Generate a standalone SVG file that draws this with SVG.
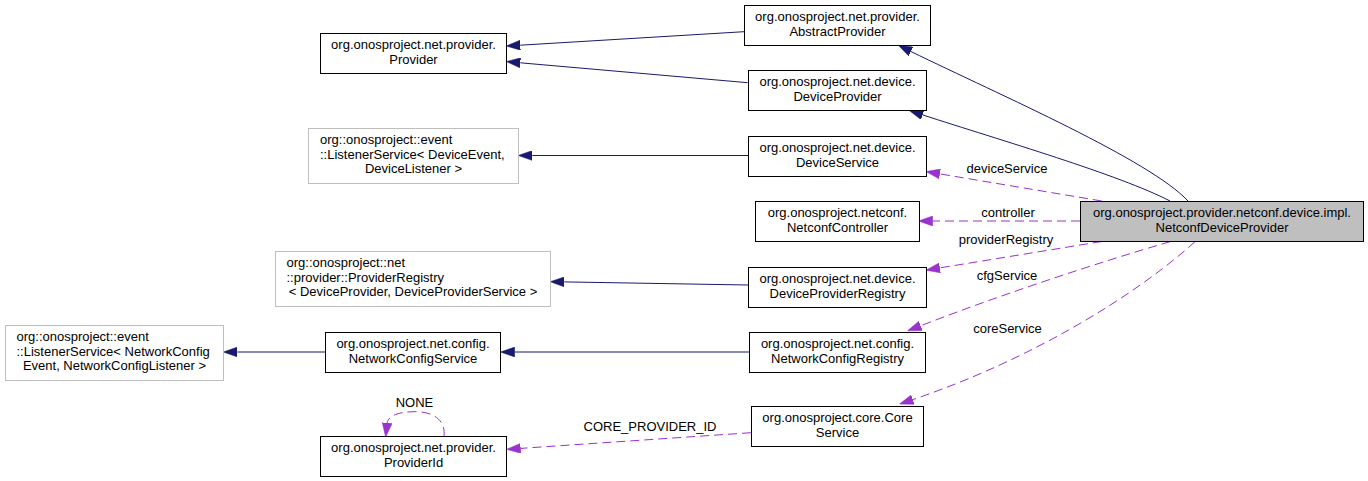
<svg xmlns="http://www.w3.org/2000/svg" width="1368" height="481" viewBox="0 0 1368 481">
<style>
text{font-family:"Liberation Sans",Arial,Helvetica,sans-serif;font-size:13px;fill:#000}
.c{text-anchor:middle}
.l{text-anchor:start}
.n{fill:#fff;stroke:#000;stroke-width:1}
.g{fill:#fff;stroke:#bfbfbf;stroke-width:1}
.h{fill:#bfbfbf;stroke:#000;stroke-width:1}
.inh{fill:none;stroke:#191970;stroke-width:1}
.use{fill:none;stroke:#9a32cd;stroke-width:1;stroke-dasharray:9,5}
</style>
<defs>
<marker id="ab" markerUnits="userSpaceOnUse" markerWidth="14" markerHeight="10" viewBox="0 0 13.3 9.4" refX="0" refY="4.7" orient="auto">
<path d="M0,0 L13.3,4.7 L0,9.4 Z" fill="#191970" stroke="#191970" stroke-width="0.5"/>
</marker>
<marker id="ap" markerUnits="userSpaceOnUse" markerWidth="14" markerHeight="10" viewBox="0 0 13.3 9.4" refX="0" refY="4.7" orient="auto">
<path d="M0,0 L13.3,4.7 L0,9.4 Z" fill="#9a32cd" stroke="#9a32cd" stroke-width="0.5"/>
</marker>
</defs>
<rect width="1368" height="481" fill="#fff"/>

<g id="edges">
<path class="inh" d="M744,31.7 L520.3,45.2" marker-end="url(#ab)"/>
<path class="inh" d="M747.7,82.7 L520.3,62.8" marker-end="url(#ab)"/>
<path class="inh" d="M748,155.5 L532.3,155.5" marker-end="url(#ab)"/>
<path class="inh" d="M748,285 L564.3,281.9" marker-end="url(#ab)"/>
<path class="inh" d="M749,352 L514.6,352" marker-end="url(#ab)"/>
<path class="inh" d="M325,352 L237.3,352" marker-end="url(#ab)"/>
<path class="inh" d="M1188,201 C1150,160 1000,95 910.9,51.5" marker-end="url(#ab)"/>
<path class="inh" d="M1170,201 C1120,175 1000,140 922.6,114.9" marker-end="url(#ab)"/>

<path class="use" d="M1101.7,201 L939.8,173.9" marker-end="url(#ap)"/>
<text class="c" x="1007" y="173">deviceService</text>
<path class="use" d="M1080,221 L932.6,221" marker-end="url(#ap)"/>
<text class="c" x="1008" y="217">controller</text>
<path class="use" d="M1101.7,241.5 L939.8,267.9" marker-end="url(#ap)"/>
<text class="c" x="1006" y="244">providerRegistry</text>
<path class="use" d="M1170,241.7 C1100,262 1000,295 920.6,325.8" marker-end="url(#ap)"/>
<text class="c" x="1007" y="280">cfgService</text>
<path class="use" d="M1195,241.7 C1135,296 1030,360 912.8,399.6" marker-end="url(#ap)"/>
<text class="c" x="1007.5" y="333">coreService</text>
<path class="use" d="M751,432.7 L520.6,448.4" marker-end="url(#ap)"/>
<text class="c" x="650" y="431">CORE_PROVIDER_ID</text>
<path class="use" d="M444,436 C446,418 430,411 413,411.7 C398,412 388,416 387.2,423" marker-end="url(#ap)"/>
<text class="c" x="414.5" y="407">NONE</text>
</g>

<g id="node-abstractprovider">
<rect class="n" x="744.5" y="5.5" width="186" height="40"/>
<text class="c" x="837.5" y="21">org.onosproject.net.provider.</text>
<text class="c" x="837.5" y="35.7">AbstractProvider</text>
</g>
<g id="node-provider">
<rect class="n" x="320.5" y="33.5" width="186" height="40"/>
<text class="c" x="413.5" y="49">org.onosproject.net.provider.</text>
<text class="c" x="413.5" y="63.7">Provider</text>
</g>
<g id="node-deviceprovider">
<rect class="n" x="748.5" y="70.5" width="178" height="40"/>
<text class="c" x="837.5" y="86">org.onosproject.net.device.</text>
<text class="c" x="837.5" y="100.7">DeviceProvider</text>
</g>
<g id="node-listenerservice-device">
<rect class="g" x="308.5" y="128.5" width="210" height="55"/>
<text class="l" x="320" y="144">org::onosproject::event</text>
<text class="l" x="320" y="158.7">::ListenerService&lt; DeviceEvent,</text>
<text class="c" x="413.5" y="173.3">DeviceListener &gt;</text>
</g>
<g id="node-deviceservice">
<rect class="n" x="748.5" y="136.5" width="178" height="40"/>
<text class="c" x="837.5" y="152">org.onosproject.net.device.</text>
<text class="c" x="837.5" y="166.7">DeviceService</text>
</g>
<g id="node-netconfcontroller">
<rect class="n" x="755.5" y="201.5" width="164" height="40"/>
<text class="c" x="837.5" y="217">org.onosproject.netconf.</text>
<text class="c" x="837.5" y="231.7">NetconfController</text>
</g>
<g id="node-netconfdeviceprovider">
<rect class="h" x="1080.5" y="201.5" width="283" height="40"/>
<text class="c" x="1222" y="217">org.onosproject.provider.netconf.device.impl.</text>
<text class="c" x="1222" y="231.7">NetconfDeviceProvider</text>
</g>
<g id="node-providerregistry">
<rect class="g" x="275.5" y="251.5" width="275" height="55"/>
<text class="l" x="286.5" y="267">org::onosproject::net</text>
<text class="l" x="286.5" y="281.7">::provider::ProviderRegistry</text>
<text class="c" x="413" y="296.3">&lt; DeviceProvider, DeviceProviderService &gt;</text>
</g>
<g id="node-deviceproviderregistry">
<rect class="n" x="748.5" y="267.5" width="178" height="40"/>
<text class="c" x="837.5" y="283">org.onosproject.net.device.</text>
<text class="c" x="837.5" y="297.7">DeviceProviderRegistry</text>
</g>
<g id="node-listenerservice-netcfg">
<rect class="g" x="5.5" y="325.5" width="218" height="55"/>
<text class="l" x="16.5" y="341">org::onosproject::event</text>
<text class="l" x="16.5" y="355.7">::ListenerService&lt; NetworkConfig</text>
<text class="c" x="114.5" y="370.3">Event, NetworkConfigListener &gt;</text>
</g>
<g id="node-networkconfigservice">
<rect class="n" x="325.5" y="332.5" width="175" height="40"/>
<text class="c" x="413" y="348">org.onosproject.net.config.</text>
<text class="c" x="413" y="362.7">NetworkConfigService</text>
</g>
<g id="node-networkconfigregistry">
<rect class="n" x="749.5" y="332.5" width="176" height="40"/>
<text class="c" x="837.5" y="348">org.onosproject.net.config.</text>
<text class="c" x="837.5" y="362.7">NetworkConfigRegistry</text>
</g>
<g id="node-coreservice">
<rect class="n" x="751.5" y="406.5" width="172" height="40"/>
<text class="c" x="837.5" y="422">org.onosproject.core.Core</text>
<text class="c" x="837.5" y="436.7">Service</text>
</g>
<g id="node-providerid">
<rect class="n" x="320.5" y="436.5" width="186" height="40"/>
<text class="c" x="413.5" y="452">org.onosproject.net.provider.</text>
<text class="c" x="413.5" y="466.7">ProviderId</text>
</g>
</svg>
